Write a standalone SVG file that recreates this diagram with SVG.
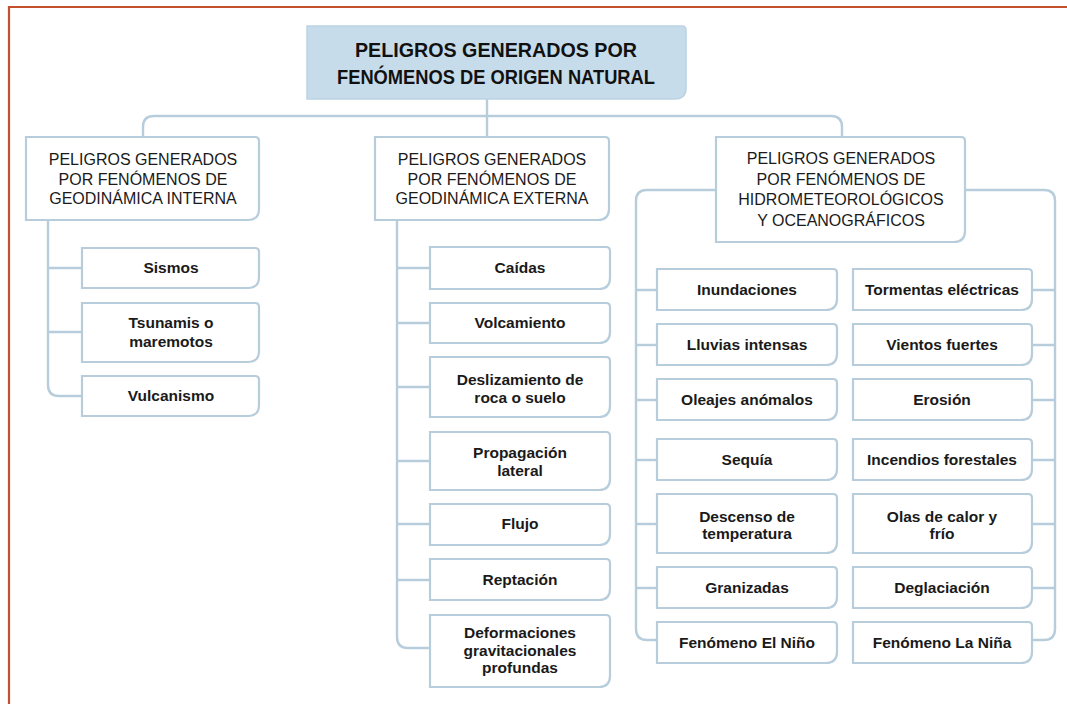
<svg xmlns="http://www.w3.org/2000/svg" width="1067" height="704" viewBox="0 0 1067 704">
<style>
.frame{fill:none;stroke:#c4502d;stroke-width:2.2}
.box{fill:#ffffff;stroke:#b7cddb;stroke-width:2.2}
.main{fill:#c7dcea;stroke:#bcd3e2;stroke-width:1.5}
.con{fill:none;stroke:#b7cddb;stroke-width:2.4}
.t0{font-family:"Liberation Sans",Arial,sans-serif;font-weight:bold;font-size:20px;fill:#111;text-anchor:middle}
.t1{font-family:"Liberation Sans",Arial,sans-serif;font-size:16px;fill:#1a1a1a;text-anchor:middle}
.t2{font-family:"Liberation Sans",Arial,sans-serif;font-weight:bold;font-size:15.5px;fill:#1a1a1a;text-anchor:middle}
</style>
<rect width="1067" height="704" fill="#ffffff"/>
<path class="frame" d="M9 704 V7 H1067"/>
<g id="connectors">
<path class="con" d="M487 99 V137"/>
<path class="con" d="M143 137 V127 Q143 116 154 116 H831 Q842 116 842 127 V137"/>
<path class="con" d="M48 220 V385 Q48 396 59 396 H82"/>
<path class="con" d="M48 268 H82 M48 332 H82"/>
<path class="con" d="M397 220 V637 Q397 648 408 648 H430"/>
<path class="con" d="M397 268 H430 M397 323 H430 M397 387 H430 M397 461 H430 M397 524 H430 M397 580 H430"/>
<path class="con" d="M716 190 H647 Q636 190 636 201 V629 Q636 640 647 640 H657"/>
<path class="con" d="M636 290 H657 M636 345 H657 M636 400 H657 M636 460 H657 M636 524 H657 M636 588 H657"/>
<path class="con" d="M965 190 H1044 Q1055 190 1055 201 V629 Q1055 640 1044 640 H1032"/>
<path class="con" d="M1032 290 H1055 M1032 345 H1055 M1032 400 H1055 M1032 460 H1055 M1032 524 H1055 M1032 588 H1055"/>
</g>
<g id="root">
<path class="main" d="M307 26 H682 Q686 26 686 30 V88 Q686 99 675 99 H307 Z"/>
<text class="t0" x="496" y="57" textLength="282" lengthAdjust="spacingAndGlyphs">PELIGROS GENERADOS POR</text>
<text class="t0" x="496" y="84" textLength="318" lengthAdjust="spacingAndGlyphs">FENÓMENOS DE ORIGEN NATURAL</text>
</g>
<g id="interna">
<path class="box" d="M26 137 H255 Q259 137 259 141 V209 Q259 220 248 220 H26 Z"/>
<text class="t1" x="143" y="165">PELIGROS GENERADOS</text>
<text class="t1" x="143" y="185">POR FENÓMENOS DE</text>
<text class="t1" x="143" y="204">GEODINÁMICA INTERNA</text>
</g>
<g id="sismos">
<path class="box" d="M82 248 H255 Q259 248 259 252 V277 Q259 288 248 288 H82 Z"/>
<text class="t2" x="171" y="273">Sismos</text>
</g>
<g id="tsunamis">
<path class="box" d="M82 303 H255 Q259 303 259 307 V351 Q259 362 248 362 H82 Z"/>
<text class="t2" x="171" y="328">Tsunamis o</text>
<text class="t2" x="171" y="347">maremotos</text>
</g>
<g id="vulcanismo">
<path class="box" d="M82 376 H255 Q259 376 259 380 V405 Q259 416 248 416 H82 Z"/>
<text class="t2" x="171" y="401">Vulcanismo</text>
</g>
<g id="externa">
<path class="box" d="M375 137 H605 Q609 137 609 141 V209 Q609 220 598 220 H375 Z"/>
<text class="t1" x="492" y="165">PELIGROS GENERADOS</text>
<text class="t1" x="492" y="185">POR FENÓMENOS DE</text>
<text class="t1" x="492" y="204">GEODINÁMICA EXTERNA</text>
</g>
<g id="caidas">
<path class="box" d="M430 247 H606 Q610 247 610 251 V278 Q610 289 599 289 H430 Z"/>
<text class="t2" x="520" y="273">Caídas</text>
</g>
<g id="volcamiento">
<path class="box" d="M430 303 H606 Q610 303 610 307 V332 Q610 343 599 343 H430 Z"/>
<text class="t2" x="520" y="328">Volcamiento</text>
</g>
<g id="deslizamiento">
<path class="box" d="M430 357 H606 Q610 357 610 361 V406 Q610 417 599 417 H430 Z"/>
<text class="t2" x="520" y="385">Deslizamiento de</text>
<text class="t2" x="520" y="403">roca o suelo</text>
</g>
<g id="propagacion">
<path class="box" d="M430 432 H606 Q610 432 610 436 V479 Q610 490 599 490 H430 Z"/>
<text class="t2" x="520" y="458">Propagación</text>
<text class="t2" x="520" y="476">lateral</text>
</g>
<g id="flujo">
<path class="box" d="M430 504 H606 Q610 504 610 508 V534 Q610 545 599 545 H430 Z"/>
<text class="t2" x="520" y="529">Flujo</text>
</g>
<g id="reptacion">
<path class="box" d="M430 559 H606 Q610 559 610 563 V589 Q610 600 599 600 H430 Z"/>
<text class="t2" x="520" y="585">Reptación</text>
</g>
<g id="deformaciones">
<path class="box" d="M430 615 H606 Q610 615 610 619 V676 Q610 687 599 687 H430 Z"/>
<text class="t2" x="520" y="638">Deformaciones</text>
<text class="t2" x="520" y="656">gravitacionales</text>
<text class="t2" x="520" y="673">profundas</text>
</g>
<g id="hidro">
<path class="box" d="M716 137 H961 Q965 137 965 141 V231 Q965 242 954 242 H716 Z"/>
<text class="t1" x="841" y="164">PELIGROS GENERADOS</text>
<text class="t1" x="841" y="185">POR FENÓMENOS DE</text>
<text class="t1" x="841" y="205">HIDROMETEOROLÓGICOS</text>
<text class="t1" x="841" y="226">Y OCEANOGRÁFICOS</text>
</g>
<g id="inundaciones">
<path class="box" d="M657 269 H833 Q837 269 837 273 V299 Q837 310 826 310 H657 Z"/>
<text class="t2" x="747" y="295">Inundaciones</text>
</g>
<g id="lluvias">
<path class="box" d="M657 324 H833 Q837 324 837 328 V354 Q837 365 826 365 H657 Z"/>
<text class="t2" x="747" y="350">Lluvias intensas</text>
</g>
<g id="oleajes">
<path class="box" d="M657 379 H833 Q837 379 837 383 V409 Q837 420 826 420 H657 Z"/>
<text class="t2" x="747" y="405">Oleajes anómalos</text>
</g>
<g id="sequia">
<path class="box" d="M657 439 H833 Q837 439 837 443 V469 Q837 480 826 480 H657 Z"/>
<text class="t2" x="747" y="465">Sequía</text>
</g>
<g id="descenso">
<path class="box" d="M657 494 H833 Q837 494 837 498 V542 Q837 553 826 553 H657 Z"/>
<text class="t2" x="747" y="522">Descenso de</text>
<text class="t2" x="747" y="539">temperatura</text>
</g>
<g id="granizadas">
<path class="box" d="M657 567 H833 Q837 567 837 571 V597 Q837 608 826 608 H657 Z"/>
<text class="t2" x="747" y="593">Granizadas</text>
</g>
<g id="elnino">
<path class="box" d="M657 622 H833 Q837 622 837 626 V652 Q837 663 826 663 H657 Z"/>
<text class="t2" x="747" y="648">Fenómeno El Niño</text>
</g>
<g id="tormentas">
<path class="box" d="M853 269 H1028 Q1032 269 1032 273 V299 Q1032 310 1021 310 H853 Z"/>
<text class="t2" x="942" y="295">Tormentas eléctricas</text>
</g>
<g id="vientos">
<path class="box" d="M853 324 H1028 Q1032 324 1032 328 V354 Q1032 365 1021 365 H853 Z"/>
<text class="t2" x="942" y="350">Vientos fuertes</text>
</g>
<g id="erosion">
<path class="box" d="M853 379 H1028 Q1032 379 1032 383 V409 Q1032 420 1021 420 H853 Z"/>
<text class="t2" x="942" y="405">Erosión</text>
</g>
<g id="incendios">
<path class="box" d="M853 439 H1028 Q1032 439 1032 443 V469 Q1032 480 1021 480 H853 Z"/>
<text class="t2" x="942" y="465">Incendios forestales</text>
</g>
<g id="olas">
<path class="box" d="M853 494 H1028 Q1032 494 1032 498 V542 Q1032 553 1021 553 H853 Z"/>
<text class="t2" x="942" y="522">Olas de calor y</text>
<text class="t2" x="942" y="539">frío</text>
</g>
<g id="deglaciacion">
<path class="box" d="M853 567 H1028 Q1032 567 1032 571 V597 Q1032 608 1021 608 H853 Z"/>
<text class="t2" x="942" y="593">Deglaciación</text>
</g>
<g id="lanina">
<path class="box" d="M853 622 H1028 Q1032 622 1032 626 V652 Q1032 663 1021 663 H853 Z"/>
<text class="t2" x="942" y="648">Fenómeno La Niña</text>
</g>
</svg>
